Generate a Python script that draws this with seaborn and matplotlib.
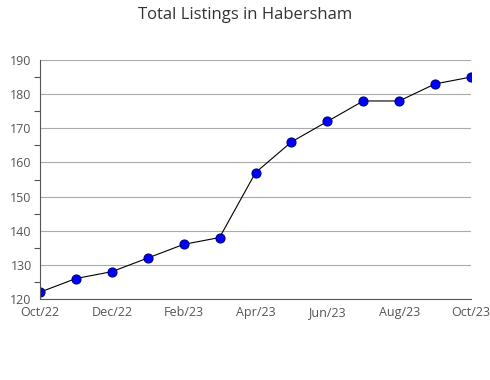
import matplotlib
matplotlib.use("Agg")
import matplotlib.pyplot as plt
import seaborn as sns
import pandas as pd
from matplotlib.ticker import MultipleLocator

months = ["Oct/22", "Nov/22", "Dec/22", "Jan/23", "Feb/23", "Mar/23", "Apr/23",
          "May/23", "Jun/23", "Jul/23", "Aug/23", "Sep/23", "Oct/23"]
listings = [122, 126, 128, 132, 136, 138, 157, 166, 172, 178, 178, 183, 185]

sns.set_theme(style="white")
plt.rcParams['font.family'] = ['Open Sans', 'DejaVu Sans']

df = pd.DataFrame({"idx": range(len(months)), "value": listings})

fig = plt.figure(figsize=(4.9, 3.8), dpi=100)
ax = fig.add_axes([40/490, 1-299/380, (471-40)/490, (299-60)/380])

sns.lineplot(data=df, x="idx", y="value", ax=ax, color="black", linewidth=0.8,
             marker="o", markersize=6.5, markerfacecolor="#0000ff",
             markeredgecolor="#000080", markeredgewidth=0.8)

ax.set_xlim(0, len(months) - 1)
ax.set_ylim(120, 190)
ax.yaxis.set_major_locator(MultipleLocator(10))
ax.yaxis.set_minor_locator(MultipleLocator(5))
ax.set_xticks(range(len(months)))
ax.set_xticklabels([m if i % 2 == 0 else "" for i, m in enumerate(months)])
ax.grid(axis="y", which="major", color="#aaaaaa", linewidth=0.8)
ax.set_axisbelow(True)
for s in ["top", "right"]:
    ax.spines[s].set_visible(False)
for s in ["left", "bottom"]:
    ax.spines[s].set_color("#555555")
    ax.spines[s].set_linewidth(0.8)
ax.tick_params(axis="both", which="both", direction="out", color="#555555",
               labelcolor="#555555", labelsize=9, width=0.8)
ax.tick_params(axis="y", which="major", length=4, pad=2)
ax.tick_params(axis="y", which="minor", length=4, left=True)
ax.tick_params(axis="x", length=4, pad=1)
ax.set_xlabel("")
ax.set_ylabel("")
fig.text(0.5, 1-15/380, "Total Listings in Habersham", ha="center", va="center",
         fontsize=12, color="#333333")

fig.savefig("out.png", dpi=100)
